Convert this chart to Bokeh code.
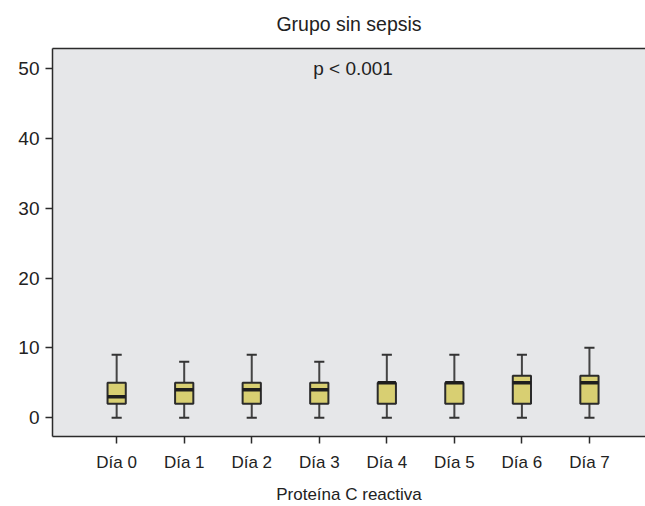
from bokeh.plotting import figure
from bokeh.models import LinearAxis, FixedTicker, Range1d, Label
from bokeh.embed import file_html
from bokeh.resources import INLINE

title_text = "Grupo sin sepsis"
annotation_text = "p < 0.001"
days = ["Día 0", "Día 1", "Día 2", "Día 3", "Día 4", "Día 5", "Día 6", "Día 7"]
whisker_low = [0, 0, 0, 0, 0, 0, 0, 0]
q1 = [2, 2, 2, 2, 2, 2, 2, 2]
median = [3, 4, 4, 4, 5, 5, 5, 5]
q3 = [5, 5, 5, 5, 5, 5, 6, 6]
whisker_high = [9, 8, 9, 8, 9, 9, 9, 10]
y_ticks = [0, 10, 20, 30, 40, 50]

xs = list(range(len(days)))
FONT = "Liberation Sans"
DARK = "#2b2b2b"

p = figure(width=645, height=506, output_backend="svg", toolbar_location=None,
           x_range=Range1d(-0.95, 7.83), y_range=Range1d(-2.7, 52.9),
           min_border_left=52, min_border_right=0, min_border_top=0, min_border_bottom=69)

p.border_fill_color = "white"
p.background_fill_color = "#e6e7e9"
p.outline_line_color = None
p.grid.visible = False

# title
p.title.text = title_text
p.title.align = "center"
p.title.vertical_align = "top"
p.title.text_font = FONT
p.title.text_font_size = "19.5px"
p.title.text_font_style = "normal"
p.title.text_color = "#222222"
p.title.standoff = 24

# whiskers
p.segment(x0=xs, y0=q3, x1=xs, y1=whisker_high, line_color="#444444", line_width=2)
p.segment(x0=xs, y0=whisker_low, x1=xs, y1=q1, line_color="#444444", line_width=2)
p.segment(x0=[x - 0.075 for x in xs], y0=whisker_high, x1=[x + 0.075 for x in xs], y1=whisker_high,
          line_color="#333333", line_width=2)
p.segment(x0=[x - 0.075 for x in xs], y0=whisker_low, x1=[x + 0.075 for x in xs], y1=whisker_low,
          line_color="#333333", line_width=2)
# boxes
p.vbar(x=xs, bottom=q1, top=q3, width=0.27, fill_color="#d8cf72", line_color=DARK, line_width=2)
# medians
p.segment(x0=[x - 0.135 for x in xs], y0=median, x1=[x + 0.135 for x in xs], y1=median,
          line_color="#1e1e1e", line_width=3.5)

p.add_layout(Label(x=3.5, y=50, text=annotation_text, text_align="center", text_baseline="middle",
                   text_font=FONT, text_font_size="19px", text_color="#222222"))

# axes
for ax in (p.xaxis[0], p.yaxis[0]):
    ax.axis_line_color = DARK
    ax.axis_line_width = 1.5
    ax.major_tick_line_color = DARK
    ax.major_tick_line_width = 1.5
    ax.major_tick_in = 0
    ax.major_tick_out = 7
    ax.minor_tick_line_color = None
    ax.major_label_text_font = FONT
    ax.major_label_text_color = "#222222"

p.yaxis.ticker = FixedTicker(ticks=y_ticks)
p.yaxis.major_label_text_font_size = "19px"
p.yaxis.major_label_standoff = 6

p.xaxis.ticker = FixedTicker(ticks=xs)
p.xaxis.major_label_overrides = {i: d for i, d in enumerate(days)}
p.xaxis.major_label_text_font_size = "17px"
p.xaxis.major_label_standoff = 9
p.xaxis.axis_label = "Proteína C reactiva"
p.xaxis.axis_label_text_font = FONT
p.xaxis.axis_label_text_font_size = "17px"
p.xaxis.axis_label_text_font_style = "normal"
p.xaxis.axis_label_text_color = "#222222"
p.xaxis.axis_label_standoff = 10

top_axis = LinearAxis(ticker=FixedTicker(ticks=[]), major_tick_line_color=None,
                      minor_tick_line_color=None, axis_line_color=DARK, axis_line_width=1.5)
p.add_layout(top_axis, "above")

open("out.html", "w").write(file_html(p, INLINE))
